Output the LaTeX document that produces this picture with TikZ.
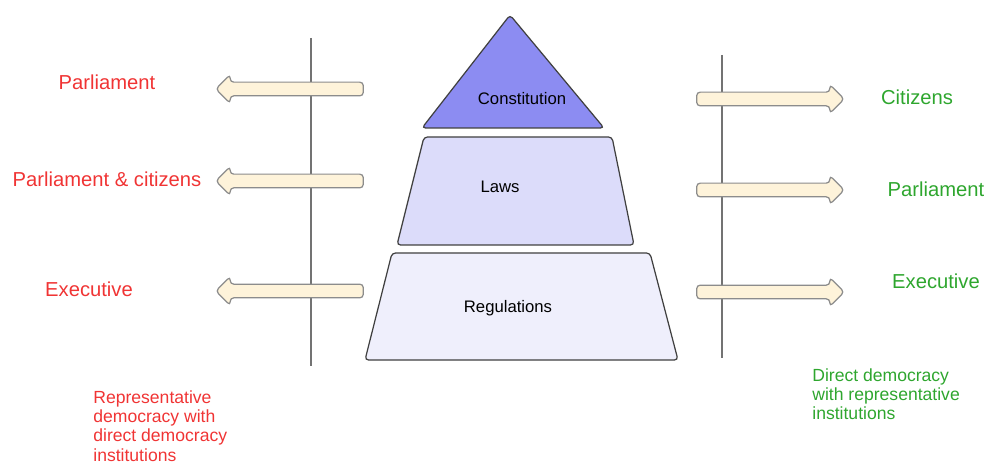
\documentclass[tikz,border=0pt]{standalone}
\usepackage{fontspec}
\setmainfont{Liberation Sans}
\usetikzlibrary{shapes.arrows}

\definecolor{apexblue}{HTML}{8C8CF2}
\definecolor{midblue}{HTML}{DCDCFA}
\definecolor{lowblue}{HTML}{EFEFFC}
\definecolor{arrowfill}{HTML}{FEF3DA}
\definecolor{redtext}{HTML}{F03434}
\definecolor{greentext}{HTML}{2EA62E}

\begin{document}
\begin{tikzpicture}[
    x = 0.02cm,
    y = -0.02cm,
    %
    level/.style = {draw = black!75,
      line width = 0.7pt,
      rounded corners = 2pt},
    %
    axis/.style = {draw = black!55,
      line width = 1pt},
    %
    flow/.style = {shape = single arrow,
      draw = black!45,
      fill = arrowfill,
      line width = 0.7pt,
      inner xsep = 0pt,
      inner ysep = 0.125cm,
      minimum width = 0.56cm,
      single arrow head extend = 0.15cm,
      single arrow tip angle = 90,
      minimum height = 2.95cm,
      rounded corners = 2pt},
    %
    organ/.style = {font = \fontsize{11.5}{13}\selectfont},
    leftside/.style = {redtext},
    rightside/.style = {greentext},
    tier/.style = {font = \fontsize{9.5}{12}\selectfont},
    note/.style = {font = \fontsize{10}{11}\selectfont,
      align = left, inner sep = 0pt},
    ]

    \useasboundingbox (0, 0) rectangle (989, 465);

    % the pyramid
    \draw [level, fill = apexblue]
    (422, 128) -- (510, 15) -- (604, 128) -- cycle;
    \draw [level, fill = midblue]
    (424, 137) -- (612, 137) -- (634, 245) -- (397, 245) -- cycle;
    \draw [level, fill = lowblue]
    (392, 253) -- (650, 253) -- (678, 360) -- (365, 360) -- cycle;

    \node at (522, 99) [tier, name = constitution] {Constitution};
    \node at (500, 187) [tier, name = laws] {Laws};
    \node at (508, 308) [tier, name = regulations] {Regulations};

    % the two axes
    \draw [axis] (311, 38) -- (311, 366);
    \draw [axis] (722, 55) -- (722, 358);

    % left arrows
    \node at (293, 89) [flow, shape border rotate = 180, name = L1] {};
    \node at (293, 181) [flow, shape border rotate = 180, name = L2] {};
    \node at (293, 291) [flow, shape border rotate = 180, name = L3] {};

    % right arrows
    \node at (767, 99) [flow, name = R1] {};
    \node at (767, 190) [flow, name = R2] {};
    \node at (767, 292) [flow, name = R3] {};

    % left labels
    \node at (107, 82) [organ, leftside, name = P_L] {Parliament};
    \node at (107, 179) [organ, leftside, name = PC_L] {Parliament \& citizens};
    \node at (89, 289) [organ, leftside, name = E_L] {Executive};

    % right labels
    \node at (917, 97) [organ, rightside, name = C_R] {Citizens};
    \node at (936, 189) [organ, rightside, name = P_R] {Parliament};
    \node at (936, 281) [organ, rightside, name = E_R] {Executive};

    \node at (93, 390) [note, leftside, anchor = north west, name = repr]
    {Representative\\democracy with\\direct democracy\\institutions};

    \node at (812, 368) [note, rightside, anchor = north west, name = direct]
    {Direct democracy\\with representative\\institutions};

  \end{tikzpicture}
\end{document}
